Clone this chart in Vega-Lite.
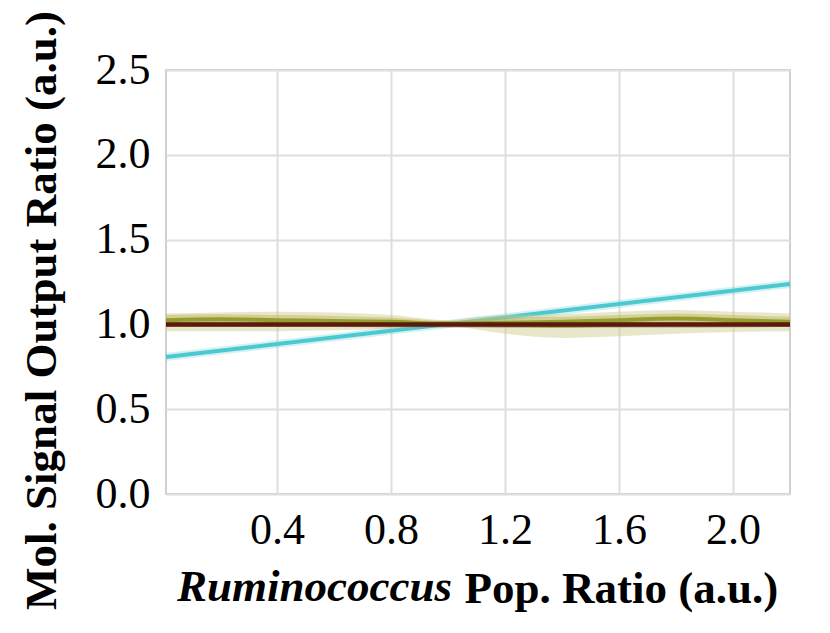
{
  "$schema": "https://vega.github.io/schema/vega-lite/v6.json",
  "width": 624,
  "height": 424,
  "autosize": {"type": "none"},
  "padding": {"left": 166, "top": 70, "right": 40, "bottom": 139},
  "title": {
    "text": "Ruminococcus",
    "orient": "bottom",
    "anchor": "start",
    "frame": "group",
    "font": "Liberation Serif",
    "fontSize": 45,
    "fontStyle": "italic",
    "fontWeight": "bold",
    "color": "black",
    "baseline": "alphabetic",
    "dx": 11,
    "dy": -14
  },
  "datasets": {
    "bands": [
      {"series": "wide", "x": 0.01, "y": 1.0, "lo": 0.96, "hi": 1.065},
      {"series": "wide", "x": 0.2, "y": 1.0, "lo": 0.96, "hi": 1.07},
      {"series": "wide", "x": 0.4, "y": 1.0, "lo": 0.96, "hi": 1.075},
      {"series": "wide", "x": 0.6, "y": 1.0, "lo": 0.965, "hi": 1.07},
      {"series": "wide", "x": 0.8, "y": 1.0, "lo": 0.975, "hi": 1.055},
      {"series": "wide", "x": 1.0, "y": 1.0, "lo": 0.99, "hi": 1.025},
      {"series": "wide", "x": 1.1, "y": 1.0, "lo": 0.97, "hi": 1.045},
      {"series": "wide", "x": 1.2, "y": 0.995, "lo": 0.945, "hi": 1.055},
      {"series": "wide", "x": 1.4, "y": 0.99, "lo": 0.92, "hi": 1.06},
      {"series": "wide", "x": 1.6, "y": 0.995, "lo": 0.93, "hi": 1.075},
      {"series": "wide", "x": 1.8, "y": 1.0, "lo": 0.945, "hi": 1.085},
      {"series": "wide", "x": 2.0, "y": 1.0, "lo": 0.955, "hi": 1.075},
      {"series": "wide", "x": 2.2, "y": 1.0, "lo": 0.96, "hi": 1.065},
      {"series": "olive", "x": 0.01, "y": 1.025, "lo": 0.995, "hi": 1.055},
      {"series": "olive", "x": 0.2, "y": 1.03, "lo": 1.0, "hi": 1.06},
      {"series": "olive", "x": 0.4, "y": 1.025, "lo": 0.995, "hi": 1.055},
      {"series": "olive", "x": 0.6, "y": 1.02, "lo": 0.99, "hi": 1.05},
      {"series": "olive", "x": 0.8, "y": 1.015, "lo": 0.99, "hi": 1.04},
      {"series": "olive", "x": 1.0, "y": 1.005, "lo": 0.99, "hi": 1.02},
      {"series": "olive", "x": 1.2, "y": 1.01, "lo": 0.98, "hi": 1.04},
      {"series": "olive", "x": 1.4, "y": 1.015, "lo": 0.985, "hi": 1.045},
      {"series": "olive", "x": 1.6, "y": 1.025, "lo": 0.995, "hi": 1.055},
      {"series": "olive", "x": 1.8, "y": 1.035, "lo": 1.005, "hi": 1.065},
      {"series": "olive", "x": 2.0, "y": 1.025, "lo": 0.995, "hi": 1.055},
      {"series": "olive", "x": 2.2, "y": 1.015, "lo": 0.985, "hi": 1.045},
      {"series": "brown", "x": 0.01, "y": 1.0, "lo": 0.985, "hi": 1.015},
      {"series": "brown", "x": 0.6, "y": 1.0, "lo": 0.985, "hi": 1.015},
      {"series": "brown", "x": 1.2, "y": 1.0, "lo": 0.98, "hi": 1.015},
      {"series": "brown", "x": 1.6, "y": 1.0, "lo": 0.98, "hi": 1.015},
      {"series": "brown", "x": 2.2, "y": 1.0, "lo": 0.985, "hi": 1.015}
    ],
    "trend": [
      {"x": 0.01, "y": 0.808},
      {"x": 2.2, "y": 1.238}
    ]
  },
  "encoding": {
    "x": {
      "field": "x",
      "type": "quantitative",
      "scale": {"domain": [0.01, 2.2], "nice": false, "zero": false},
      "axis": {
        "values": [0.4, 0.8, 1.2, 1.6, 2.0],
        "format": ".1f",
        "title": "Pop. Ratio (a.u.)",
        "titleAlign": "left",
        "titleAnchor": null,
        "titleX": 298,
        "titleY": 108,
        "titleBaseline": "alphabetic",
        "labelPadding": 14,
        "labelBaseline": "top"
      }
    },
    "y": {
      "field": "y",
      "type": "quantitative",
      "scale": {"domain": [0, 2.5], "nice": false},
      "axis": {
        "values": [0, 0.5, 1.0, 1.5, 2.0, 2.5],
        "format": ".1f",
        "title": "Mol. Signal Output Ratio (a.u.)",
        "titleAlign": "center",
        "titleAnchor": null,
        "titleX": -111,
        "titleY": 240,
        "titleBaseline": "alphabetic",
        "labelPadding": 16
      }
    }
  },
  "layer": [
    {
      "data": {"name": "trend"},
      "mark": {"type": "line", "color": "#4cc8cf", "strokeWidth": 8, "opacity": 0.25},
      "encoding": {}
    },
    {
      "data": {"name": "trend"},
      "mark": {"type": "line", "color": "#4cc8cf", "strokeWidth": 4},
      "encoding": {}
    },
    {
      "data": {"name": "bands"},
      "transform": [{"filter": "datum.series == 'wide'"}],
      "mark": {"type": "area", "color": "#cfc98a", "opacity": 0.45, "interpolate": "monotone"},
      "encoding": {"y": {"field": "lo", "type": "quantitative"}, "y2": {"field": "hi"}}
    },
    {
      "data": {"name": "bands"},
      "transform": [{"filter": "datum.series == 'olive'"}],
      "mark": {"type": "area", "color": "#b8b25a", "opacity": 0.45, "interpolate": "monotone"},
      "encoding": {"y": {"field": "lo", "type": "quantitative"}, "y2": {"field": "hi"}}
    },
    {
      "data": {"name": "bands"},
      "transform": [{"filter": "datum.series == 'brown'"}],
      "mark": {"type": "area", "color": "#9a7a6a", "opacity": 0.45, "interpolate": "monotone"},
      "encoding": {"y": {"field": "lo", "type": "quantitative"}, "y2": {"field": "hi"}}
    },
    {
      "data": {"name": "bands"},
      "transform": [{"filter": "datum.series == 'wide'"}],
      "mark": {"type": "line", "color": "#7c9a2e", "strokeWidth": 3, "opacity": 0.8, "interpolate": "monotone"}
    },
    {
      "data": {"name": "bands"},
      "transform": [{"filter": "datum.series == 'olive'"}],
      "mark": {"type": "line", "color": "#8e9820", "strokeWidth": 4, "opacity": 0.9, "interpolate": "monotone"}
    },
    {
      "data": {"name": "bands"},
      "transform": [{"filter": "datum.series == 'brown'"}],
      "mark": {"type": "line", "color": "#5a1a0c", "strokeWidth": 4.5, "interpolate": "monotone"}
    }
  ],
  "config": {
    "view": {"stroke": "#d0d0d0", "strokeWidth": 2},
    "axis": {
      "labelFont": "Liberation Serif",
      "labelFontSize": 44,
      "labelColor": "black",
      "titleFont": "Liberation Serif",
      "titleFontSize": 45,
      "titleFontWeight": "bold",
      "titleColor": "black",
      "ticks": false,
      "tickSize": 0,
      "domain": false,
      "grid": true,
      "gridColor": "#dedede",
      "gridWidth": 2
    }
  }
}
